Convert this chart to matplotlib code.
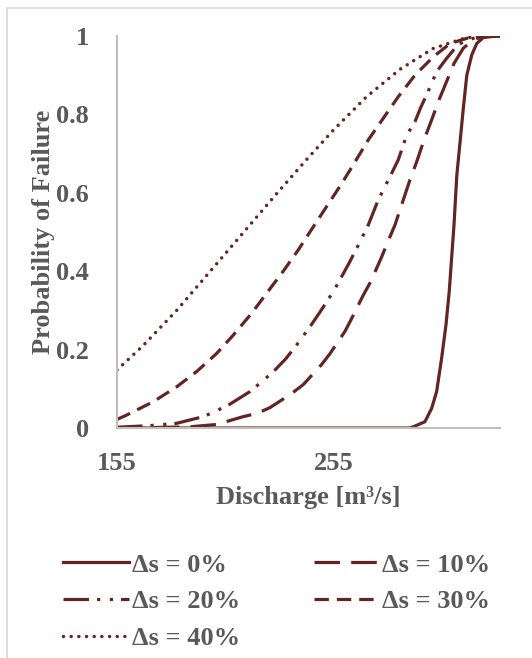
import matplotlib.pyplot as plt
from matplotlib.patches import Rectangle

# discharge [m3/s] and probability of failure
x_s0 = [155, 200, 250, 290, 291.5, 296.9, 300, 302.3, 304.6, 306.6, 308.1, 309.2,
        310.3, 311.6, 313.1, 314.6, 316.2, 318.5, 320.8, 323.8, 330, 331.5]
p_s0 = [0, 0, 0, 0, 0.003, 0.016, 0.05, 0.093, 0.178, 0.263, 0.348, 0.433,
        0.518, 0.645, 0.73, 0.816, 0.90, 0.952, 0.981, 0.996, 1.0, 1.0]

x_s10 = [155, 170, 188.6, 200.9, 213.2, 219.4, 225.5, 235.5, 240.9, 249.3, 253.2,
         260.1, 263.2, 268.5, 271.9, 277, 279.5, 283.1, 290, 293.1, 296.5, 300,
         303.1, 306.9, 310.3, 314.6, 319.2, 324, 331.5]
p_s10 = [0, 0.001, 0.003, 0.009, 0.029, 0.037, 0.052, 0.088, 0.111, 0.162, 0.19,
         0.247, 0.28, 0.339, 0.373, 0.437, 0.471, 0.518, 0.633, 0.679, 0.735, 0.786,
         0.833, 0.884, 0.93, 0.969, 0.99, 1.0, 1.0]

x_s20 = [155, 170, 182.5, 194.8, 200.9, 207.1, 216.3, 223.2, 227.8, 232.7, 237.8,
         243.9, 248.2, 251.9, 255.5, 261.6, 264.7, 267.8, 270.8, 275.4, 278.5,
         281.6, 284.6, 288.5, 292.3, 294.9, 297.7, 302.3, 306.9, 310.8, 314.6,
         319.2, 323, 331.5]
p_s20 = [0.002, 0.006, 0.012, 0.029, 0.044, 0.061, 0.093, 0.125, 0.148, 0.176, 0.212,
         0.258, 0.293, 0.324, 0.356, 0.417, 0.45, 0.484, 0.518, 0.582, 0.616,
         0.65, 0.684, 0.747, 0.781, 0.817, 0.85, 0.909, 0.943, 0.969, 0.986,
         0.994, 1.0, 1.0]

x_s30 = [155, 158.7, 171.7, 182.5, 191.7, 200.9, 208.6, 217.1, 224, 231.6, 238.5,
         243.9, 251.6, 258.6, 264.7, 270.8, 277.7, 284.6, 292.3, 300.8, 308.5,
         316.2, 321, 331.5]
p_s30 = [0.022, 0.031, 0.067, 0.105, 0.144, 0.19, 0.237, 0.293, 0.344, 0.40, 0.454,
         0.50, 0.565, 0.624, 0.679, 0.735, 0.79, 0.845, 0.90, 0.947, 0.981,
         0.994, 1.0, 1.0]

x_s40 = [155, 167, 182.5, 198, 215, 228.6, 242.4, 254.7, 270, 285.4,
         300.6, 316, 331.5]
p_s40 = [0.148, 0.21, 0.30, 0.40, 0.51, 0.598, 0.685, 0.76, 0.845, 0.915,
         0.968, 0.996, 1.0]

labels = ["Δs = 0%", "Δs = 10%", "Δs = 20%", "Δs = 30%", "Δs = 40%"]

red = "#632523"
grey = "#595959"

plt.rcParams["font.family"] = ["Liberation Serif", "DejaVu Serif"]
plt.rcParams["font.weight"] = "bold"

fig = plt.figure(figsize=(5.32, 6.58), dpi=100)
ax = fig.add_axes([117 / 532, 1 - 428 / 658, 383 / 532, 392 / 658])

# outer chart border
fig.patches.append(Rectangle((7 / 532, -0.1), 1.2, 1 - 8 / 658 + 0.1,
                             transform=fig.transFigure, fill=False,
                             edgecolor="#D9D9D9", linewidth=1.2))

ax.plot(x_s0, p_s0, color=red, lw=2.3, label=labels[0])
ax.plot(x_s10, p_s10, color=red, lw=2.3, linestyle=(0, (8, 3.5)), label=labels[1])
ax.plot(x_s20, p_s20, color=red, lw=2.3,
        linestyle=(0, (8, 2.5, 1, 3, 1, 2.5)), label=labels[2])
ax.plot(x_s30, p_s30, color=red, lw=2.3, linestyle=(0, (4.5, 2.5)), label=labels[3])
ax.plot(x_s40, p_s40, color=red, lw=2.5, linestyle=(0, (0.01, 2.2)),
        dash_capstyle="round", label=labels[4])

ax.set_xlim(155, 331.5)
ax.set_ylim(0, 1)
ax.set_xticks([155, 255])
ax.set_yticks([0, 0.2, 0.4, 0.6, 0.8, 1])
ax.set_yticklabels(["0", "0.2", "0.4", "0.6", "0.8", "1"])
ax.tick_params(length=0, labelsize=19, colors=grey, pad=17)
ax.tick_params(axis="y", pad=20)

for side in ["top", "right"]:
    ax.spines[side].set_visible(False)
for side in ["left", "bottom"]:
    ax.spines[side].set_color("#BFBFBF")
    ax.spines[side].set_linewidth(1.5)

ax.set_xlabel("Discharge [m³/s]", fontsize=19, color=grey,
              fontweight="bold", labelpad=8)
ax.set_ylabel("Probability of Failure", fontsize=19, color=grey,
              fontweight="bold", labelpad=1)

handles, labs = ax.get_legend_handles_labels()
order = [0, 2, 4, 1, 3]
fig.legend([handles[i] for i in order], [labs[i] for i in order],
           loc="upper left", bbox_to_anchor=(50 / 532, 1 - 540 / 658), ncol=2,
           frameon=False, fontsize=19, labelcolor=grey, handlelength=2.5,
           handletextpad=0.1, columnspacing=2.8, labelspacing=0.5,
           borderpad=0)

fig.savefig("out.png", dpi=100)
